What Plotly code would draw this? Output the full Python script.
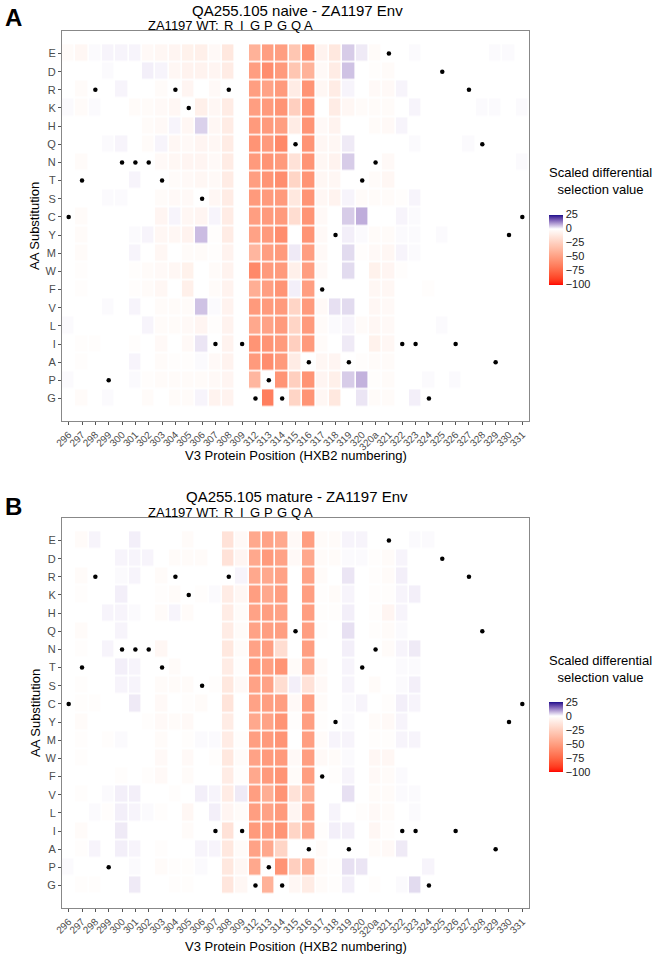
import plotly.graph_objects as go

positions = ["296", "297", "298", "299", "300", "301", "302", "303", "304", "305",
             "306", "307", "308", "309", "312", "313", "314", "315", "316", "317",
             "318", "319", "320", "320a", "321", "322", "323", "324", "325", "326",
             "327", "328", "329", "330", "331"]
aas = ["E", "D", "R", "K", "H", "Q", "N", "T", "S", "C", "Y", "M", "W", "F", "V",
       "L", "I", "A", "P", "G"]
wt = ["C", "T", "R", "P", "N", "N", "N", "T", "R", "K", "S", "I", "R", "I", "G", "P",
      "G", "Q", "A", "F", "Y", "A", "T", "N", "E", "I", "I", "G", "D", "I", "R", "Q",
      "A", "Y", "C"]
wt_header_pos = ["308", "309", "312", "313", "314", "315", "316"]
wt_header_aa = ["R", "I", "G", "P", "G", "Q", "A"]

naive_vals = [
    [-2,-4,0.5,1,1,1,-3,-4,-5,-7,-8,-3,-12,0,-40,-50,-50,-30,-55,-6,-12,5,2,-2,0,0,0.5,0,0,0,0,0,0.5,0.5,0],
    [0,0,0,0.5,0,0,1.5,1,-4,-6,-6,-5,-10,0,-50,-58,-52,-30,-40,-3,-10,6,0,-1,-2,0,0,0,0,0,0,0,0,0,0],
    [0,-2,0,0,1,0,0,-2,0,-5,0,-3,0,0,-50,-48,-52,-10,-55,-4,-10,1,0,-3,-3,1,0,0,0,0,0,0,0,0,0],
    [0.5,-2,0.5,0,0,-2,-2,-3,-4,0,-8,-4,-10,0,-50,-52,-55,-25,-55,0,-10,-4,-2,-2,-2,0,1,0,0,0,0,0.5,0.5,0,0.5],
    [0,0,0,0,0,0,-2,-3,1,-4,4.5,-4,-10,0,-52,-52,-50,-10,-55,-3,-6,0,0,-2,-3,1,0,0,0,0,0,0,0,0,0],
    [0,0,0,0.5,1,0,-2,1,-4,-3,-5,-4,-10,0,-55,-52,-60,0,-55,-4,-4,2,0,0,0,0,0.5,0,0,0,0.5,0,0,0,0],
    [0,-2,0,0,0,0,0,-3,-4,-5,-5,-3,-10,0,-52,-55,-52,-15,-55,-4,-6,5,0,0,-3,0,0,0,0,0,0,0,0,0,0.5],
    [0,0,0,0,0,1,0,0,-2,-3,-4,-3,-10,0,-50,-55,-58,-22,-55,-4,-4,0,0,-2,-4,0,0,0,0,0,0,0,0,0,0],
    [0,0,0,0.5,0.5,0,0,-2,-3,-3,0,-4,-10,0,-52,-52,-52,-12,-55,-4,-6,1,-2,-2,-2,-1,1,0,0,0,0,0,0,0,0],
    [0,-2,0,0,0,0,0,-5,1,-4,-5,1,-10,0,-50,-52,-52,-18,-55,-3,0,5,8,0,0,1,0.5,0,0,0,0,0,0,0,0],
    [0,-2,0,0,0,0.5,1,-4,-4,-6,6.5,-1,-10,0,-48,-52,-58,0,-55,-3,0,1.5,0.5,-2,-2,0.5,0.5,0,0.5,0,0,0,0,0,0],
    [0,-2,0,0,0,1,0,-4,0,-2,-2,-1,-6,0,-38,-50,-52,2,-50,-3,0,3.5,-1,-3,-4,1,0.5,0,0,0,0,0,0,0,0],
    [0,-1,0,0,0,-1,-2,-3,-4,-7,0,-2,-6,0,-60,-52,-52,-8,-50,-3,0,3.5,0,-7,-5,-1,0,0,0,0,0,0,0,0,0],
    [0,-1,0,0,0,-1,-2,-4,0,-8,0,-2,-6,0,-42,-50,-55,1.5,-50,0,0,0,0,-4,-4,0,0,-1,0,0,0,0,0,0,0],
    [0,0,0,0.5,0,1,0,-2,-2,-2,6,0.5,-6,0,-52,-52,-52,-22,-52,-3,3,3.5,0,-4,-3,0,0,0,0,0,0,0,0,0,0],
    [0.5,0,0,0,0,0,1,-2,-2,-3,-5,-1,-6,0,-45,-48,-52,-22,-52,-2,0.5,1,-2,-4,-3,0,0,0,0.5,0,0,0,0,0,0],
    [0,-1,-1,0,0,-1,0,-3,0,-3,2.5,0,-6,0,-55,-55,-52,-25,-52,-2,0,2,0,-7,-4,0,0,0,0,0,0,0,0,0,0],
    [0,-1,0,0,0,1,0,-2,-1,-1,0.5,-3,-6,0,-52,-58,-52,-10,0,-4,-5,0,-1,-2,-2,0,0,0,0,0,0,0,0,0,0],
    [0.5,0,0,0,0,0.5,-1,-2,-2,-2,-2,-3,-5,0,-38,0,-55,-25,-55,-5,-8,5,7.5,-1,-2,0,0,0.5,0,0.5,0,0,0,0,0],
    [0,-2,0,0.5,0,0,-2,0,-2,-2,1,-6,-6,0,0,-65,0,-22,-55,-4,-12,0,2.5,-2,-2,0,1.5,0,0,0,0,0,0,0,0],
]

mature_vals = [
    [0,-2,1,0,0,1.5,0,0,0,-2,0,0,-15,-3,-45,-48,-45,-3,-50,-2,-2,1,1,0,0,0,0.5,0.5,0,0,0,0,0,0,0],
    [0,0,0,0,1,1,1,0,-2,-2,-2,0,-15,-5,-45,-52,-48,-3,-45,-2,-2,0.5,0.5,-1,-2,1,0,0,0,0,0,0,0,0,0],
    [0,-2,0,0,0.5,1,0,-2,0,0,0,0,0,1,-45,-45,-48,0,-48,-2,0,2.5,0,-1,-2,1.5,0,0,0,0,0,0,0,0,0],
    [0,-1,0,0,1.5,0,0,-1,-2,0,-1,0.5,-10,-4,-50,-45,-50,0,-50,-1,-2,1,0,-1,-1,1,1.5,0,0,0,0,0,0,0,0],
    [0,0,0,1,1,0.5,0,-2,1,-2,0,0,-10,-2,-48,-50,-48,0,-50,-1,-1,1.5,0,-1,-5,1,0,0,0,0,0,0,0,0,0],
    [0,-2,0,0,1,0,0,0,0,0,0,0,-10,-2,-48,-50,-50,0,-50,-1,0,3,0,-1,-2,0.5,0,0,0,0,0,0,0,0,0],
    [0,-1,0,1,0,0,0,-4,0,0,0,0,-12,-2,-48,-50,-18,0,-50,0,0,1.5,0,0,-2,1,2,0,0,0,0,0,0,0,0],
    [0,0,0,0,1.5,1,0,0,-2,0,0,0,-10,-1,-52,-50,-55,-2,-45,-2,0,1,0,0,0,0.5,0.5,0,0,0,0,0,0,0,0],
    [0,-1,0,0,1,1,0,-2,-2,-2,0,-1,-12,-3,-48,-48,-18,1.5,-15,-3,0,1,0,-2,0,0.5,1.5,0,0,0,0,0,0,0,0],
    [0,-1,-1,0,0,2,0,-3,0,-1,-2,0,-14,0,-48,-50,-50,-3,-50,-2,0,0.5,1,0,-1,1.5,1,0,0,0,0,0,0,0,0],
    [0,-2,0,0,0,0,-1,-3,-2,-3,0,0,-10,0,-45,-48,-55,-1,-50,-1,0,0.5,0,-2,-3,1,0,0,0,0,0,0,0,0,0],
    [0,-1,0,-1,0.5,0,0,-2,0,-1,0.5,0.5,-10,-1,-50,-52,-55,0,-50,-2,1,1,0,-1,-1,1,1,0,0,0,0,0,0,0,0],
    [0,-1,0,0,0,0,0,-3,0,-3,0,-1,-12,-2,-48,-52,-52,-3,-50,-3,-2,0.5,0,-4,-4,0,0,0,0,0,0,0,0,0,0],
    [0,0,0,0,-1,0,-1,-3,0,-2,0,0,-10,-1,-45,-52,-55,-2,-50,0,-1,1,0,-3,-2,0.5,0,0,0,0,0,0,0,0,0],
    [0,-1,0,0.5,1.5,1.5,0,0,-1,0,1.5,1,-10,2,-50,-42,-55,-15,-42,0,0,3,0,-2,-2,0.5,0.5,0,0,0,0,0,0,0,0],
    [0,0,0.5,-1,1.5,1,0.5,-1,0,-4,0,1.5,-5,-2,-50,-48,-52,-5,-48,0,1,0,-1,-3,-2,0,0.5,0,0,0,0,0,0,0,0],
    [0,-2,0,0,2,0,0,0,0,-2,0,0,-15,0,-52,-52,-55,-22,-46,-1,1.5,1.5,0,-4,-1,0,0,0,0,0,0,0,0,0,0],
    [0,-1,1,0,1.5,1,0,-1,0,0,1,1,-12,-2,-48,-45,-22,0,0,-2,0,0,0,-2,-3,2,0,0,0,0,0,0,0,0,0],
    [0.5,0,0,0,0,0.5,0,-2,-1,-1,0.5,0,-12,-4,-45,0,-55,-25,-42,-2,-1,3,2.5,0,0,0,0,1,0,0,0,0,0,0,0],
    [0,-1,-1,0,0,2,0,0,-1,-1,0,0,-13,-4,0,-40,0,-4,-10,-2,-1,1.5,0,-1,0,0.5,3.5,0,0,0,0,0,0,0,0],
]

ZMIN, ZMAX = -100, 25


# ---- Lab-space gradient (like ggplot2 scale_fill_gradient2) ----
def _srgb_to_lin(c):
    c = c / 255.0
    return c / 12.92 if c <= 0.04045 else ((c + 0.055) / 1.055) ** 2.4


def _lin_to_srgb(c):
    c = max(0.0, min(1.0, c))
    v = 12.92 * c if c <= 0.0031308 else 1.055 * c ** (1 / 2.4) - 0.055
    return int(round(max(0, min(1, v)) * 255))


def hex_to_lab(h):
    h = h.lstrip("#")
    r, g, b = [_srgb_to_lin(int(h[i:i + 2], 16)) for i in (0, 2, 4)]
    x = (0.4124 * r + 0.3576 * g + 0.1805 * b) / 0.95047
    y = (0.2126 * r + 0.7152 * g + 0.0722 * b)
    z = (0.0193 * r + 0.1192 * g + 0.9505 * b) / 1.08883

    def f(t):
        return t ** (1 / 3) if t > 0.008856 else 7.787 * t + 16 / 116
    fx, fy, fz = f(x), f(y), f(z)
    return (116 * fy - 16, 500 * (fx - fy), 200 * (fy - fz))


def lab_to_rgb(L, a, b):
    fy = (L + 16) / 116
    fx = fy + a / 500
    fz = fy - b / 200

    def finv(t):
        return t ** 3 if t ** 3 > 0.008856 else (t - 16 / 116) / 7.787
    x, y, z = finv(fx) * 0.95047, finv(fy), finv(fz) * 1.08883
    r = 3.2406 * x - 1.5372 * y - 0.4986 * z
    g = -0.9689 * x + 1.8758 * y + 0.0415 * z
    bb = 0.0557 * x - 0.2040 * y + 1.0570 * z
    return "rgb(%d,%d,%d)" % (_lin_to_srgb(r), _lin_to_srgb(g), _lin_to_srgb(bb))


low_lab = hex_to_lab("#FF0000")
mid_lab = hex_to_lab("#FFFFFF")
high_lab = hex_to_lab("#1A0F8C")
mid_frac = (0 - ZMIN) / (ZMAX - ZMIN)
colorscale = []
n_low = 40
for i in range(n_low + 1):
    t = i / n_low
    lab = [low_lab[k] + (mid_lab[k] - low_lab[k]) * t for k in range(3)]
    colorscale.append([mid_frac * t, lab_to_rgb(*lab)])
n_high = 12
for i in range(1, n_high + 1):
    t = i / n_high
    lab = [mid_lab[k] + (high_lab[k] - mid_lab[k]) * t for k in range(3)]
    colorscale.append([mid_frac + (1 - mid_frac) * t, lab_to_rgb(*lab)])

# ---- layout geometry (reference pixels) ----
W, H = 653, 954
PL, PR, PT, PB = 62, 529, 31, 908          # plot block in reference pixels
ML, MT = PL, PT
MR = W - PR
MB = H - PB
PW = PR - PL
PH = PB - PT


def px_x(p):
    return (p - PL) / PW


def px_y(p):
    return (PB - p) / PH


top_dom = [px_y(421), 1.0]
bot_dom = [0.0, px_y(518)]

FONT = "Liberation Sans, Arial, sans-serif"
GREY = "#4d4d4d"

fig = go.Figure()

panels = [
    (naive_vals, "x", "y", 249.5, 181, "QA255.105 naive - ZA1197 Env", "A", 18, 10, 25, 455, 226),
    (mature_vals, "x2", "y2", 737, 669, "QA255.105 mature - ZA1197 Env", "B", 506, 496, 512, 946, 713),
]

annotations = []
for vals, xa, ya, cb_y, cbt_y, title, letter, let_y, tit_y, wt_y, xt_y, yt_y in panels:
    fig.add_trace(go.Heatmap(
        x=positions, y=aas, z=vals, xaxis=xa, yaxis=ya,
        zmin=ZMIN, zmax=ZMAX, colorscale=colorscale,
        xgap=1.6, ygap=1.6,
        colorbar=dict(
            x=px_x(549), xanchor="left", y=px_y(cb_y), yanchor="middle",
            xpad=0, ypad=0,
            len=70, lenmode="pixels", thickness=14, thicknessmode="pixels",
            outlinewidth=0, ticks="", tickvals=[25, 0, -25, -50, -75, -100],
            tickfont=dict(family=FONT, size=11, color="#222"),
        ),
    ))
    fig.add_trace(go.Scatter(
        x=positions, y=wt, xaxis=xa, yaxis=ya, mode="markers",
        marker=dict(color="black", size=4.5), showlegend=False, hoverinfo="skip",
    ))
    annotations.append(dict(text="<b>%s</b>" % letter, xref="paper", yref="paper",
                            x=px_x(13), y=px_y(let_y), xanchor="center", yanchor="middle",
                            showarrow=False, font=dict(family=FONT, size=24, color="black")))
    annotations.append(dict(text=title, xref="paper", yref="paper",
                            x=px_x(297), y=px_y(tit_y), xanchor="center", yanchor="middle",
                            showarrow=False, font=dict(family=FONT, size=15, color="black")))
    annotations.append(dict(text="ZA1197 WT:", xref="paper", yref="paper",
                            x=px_x(221), y=px_y(wt_y), xanchor="right", yanchor="middle",
                            showarrow=False, font=dict(family=FONT, size=13, color="black")))
    for p, a in zip(wt_header_pos, wt_header_aa):
        annotations.append(dict(text=a, xref=xa, yref="paper",
                                x=positions.index(p), y=px_y(wt_y),
                                xanchor="center", yanchor="middle", showarrow=False,
                                font=dict(family=FONT, size=13, color="black")))
    annotations.append(dict(text="Scaled differential<br>selection value", xref="paper", yref="paper",
                            x=px_x(600), y=px_y(cbt_y), xanchor="center", yanchor="middle",
                            showarrow=False, align="center",
                            font=dict(family=FONT, size=13, color="black")))
    annotations.append(dict(text="V3 Protein Position (HXB2 numbering)", xref="paper", yref="paper",
                            x=px_x(295.5), y=px_y(xt_y), xanchor="center", yanchor="middle",
                            showarrow=False, font=dict(family=FONT, size=13, color="black")))
    annotations.append(dict(text="AA Substitution", xref="paper", yref="paper",
                            x=px_x(35), y=px_y(yt_y), xanchor="center", yanchor="middle",
                            textangle=-90, showarrow=False,
                            font=dict(family=FONT, size=13, color="black")))

xcommon = dict(type="category", categoryorder="array", categoryarray=positions,
               tickangle=-45, tickfont=dict(family=FONT, size=10, color=GREY),
               ticks="outside", ticklen=3, tickcolor="#555", showgrid=False,
               showline=True, mirror=True, linecolor="#888", linewidth=1, zeroline=False,
               range=[-0.5, len(positions) - 0.5])
ycommon = dict(type="category", categoryorder="array", categoryarray=aas,
               autorange="reversed", tickfont=dict(family=FONT, size=11, color=GREY),
               ticks="outside", ticklen=3, tickcolor="#555", showgrid=False,
               showline=True, mirror=True, linecolor="#888", linewidth=1, zeroline=False)

fig.update_layout(
    width=W, height=H,
    margin=dict(l=ML, r=MR, t=MT, b=MB, autoexpand=False),
    paper_bgcolor="white", plot_bgcolor="white",
    font=dict(family=FONT),
    showlegend=False,
    xaxis=dict(domain=[0, 1], anchor="y", **xcommon),
    yaxis=dict(domain=top_dom, anchor="x", **ycommon),
    xaxis2=dict(domain=[0, 1], anchor="y2", **xcommon),
    yaxis2=dict(domain=bot_dom, anchor="x2", **ycommon),
    annotations=annotations,
)

fig.write_html("out.html",
               config={"displayModeBar": False},
               post_script="document.body.style.margin='0';document.body.style.overflow='hidden';")
